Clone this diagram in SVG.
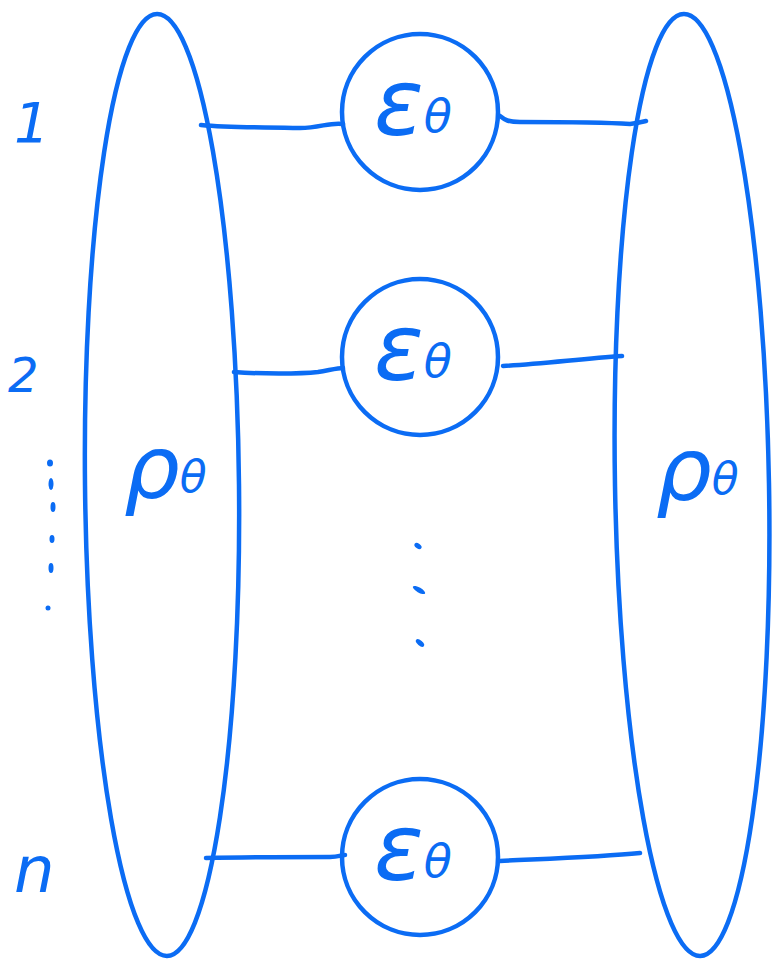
<svg xmlns="http://www.w3.org/2000/svg" width="772" height="962" viewBox="0 0 772 962">
<style>
.s{fill:none;stroke:#0b6cf4;stroke-width:4.5;stroke-linecap:round;stroke-linejoin:round}
.t{fill:#0b6cf4;font-family:"DejaVu Sans",sans-serif;font-style:italic}
.d{fill:#0b6cf4}
</style>
<rect width="772" height="962" fill="#fff"/>
<g id="rho-left">
<ellipse class="s" cx="162" cy="485" rx="77" ry="471" transform="rotate(-0.6 162 485)"/>
<text class="t" x="124" y="498" font-size="88">ρ<tspan font-size="44" dy="-6">θ</tspan></text>
</g>
<g id="rho-right">
<ellipse class="s" cx="692" cy="485" rx="77" ry="471" transform="rotate(-1 692 485)"/>
<text class="t" x="656" y="500" font-size="88">ρ<tspan font-size="44" dy="-6">θ</tspan></text>
</g>
<g id="eps-1">
<circle class="s" cx="420" cy="112" r="78"/>
<text class="t" x="374" y="135" font-size="92">ε<tspan font-size="46" dy="-3">θ</tspan></text>
</g>
<g id="eps-2">
<circle class="s" cx="420" cy="357" r="78"/>
<text class="t" x="374" y="380" font-size="92">ε<tspan font-size="46" dy="-3">θ</tspan></text>
</g>
<g id="eps-n">
<circle class="s" cx="420" cy="857" r="78"/>
<text class="t" x="374" y="880" font-size="92">ε<tspan font-size="46" dy="-3">θ</tspan></text>
</g>
<g id="labels">
<text class="t" x="14" y="142" font-size="56" font-style="normal">1</text>
<text class="t" x="8" y="392" font-size="48" font-style="normal">2</text>
<text class="t" x="14" y="892" font-size="64">n</text>
</g>
<g id="connectors">
<path class="s" d="M201 125 C230 128 260 127 300 128 C320 128 330 122 343 124"/>
<path class="s" d="M500 116 C505 120 508 122 520 122 C560 122 600 122 630 124 C638 123 642 122 646 121"/>
<path class="s" d="M234 372 C260 374 300 374 318 372 C330 370 338 368 343 368"/>
<path class="s" d="M503 366 C540 364 580 359 622 356"/>
<path class="s" d="M206 858 C250 857 300 857 330 857 C338 857 342 855 345 855"/>
<path class="s" d="M500 861 C540 859 600 857 640 853"/>
</g>
<g id="dots">
<ellipse class="d" cx="50" cy="463" rx="3" ry="3.5"/>
<ellipse class="d" cx="51" cy="484" rx="2.5" ry="6"/>
<ellipse class="d" cx="53" cy="507" rx="2.5" ry="5"/>
<ellipse class="d" cx="52" cy="539" rx="2.5" ry="4"/>
<ellipse class="d" cx="51" cy="568" rx="2.5" ry="5"/>
<ellipse class="d" cx="48" cy="608" rx="2.5" ry="2.5"/>
<ellipse class="d" cx="418" cy="546" rx="4" ry="2.5" transform="rotate(35 418 546)"/>
<ellipse class="d" cx="419" cy="590" rx="7" ry="2.5" transform="rotate(30 419 590)"/>
<ellipse class="d" cx="420" cy="643" rx="5" ry="2.5" transform="rotate(40 420 643)"/>
</g>
</svg>
